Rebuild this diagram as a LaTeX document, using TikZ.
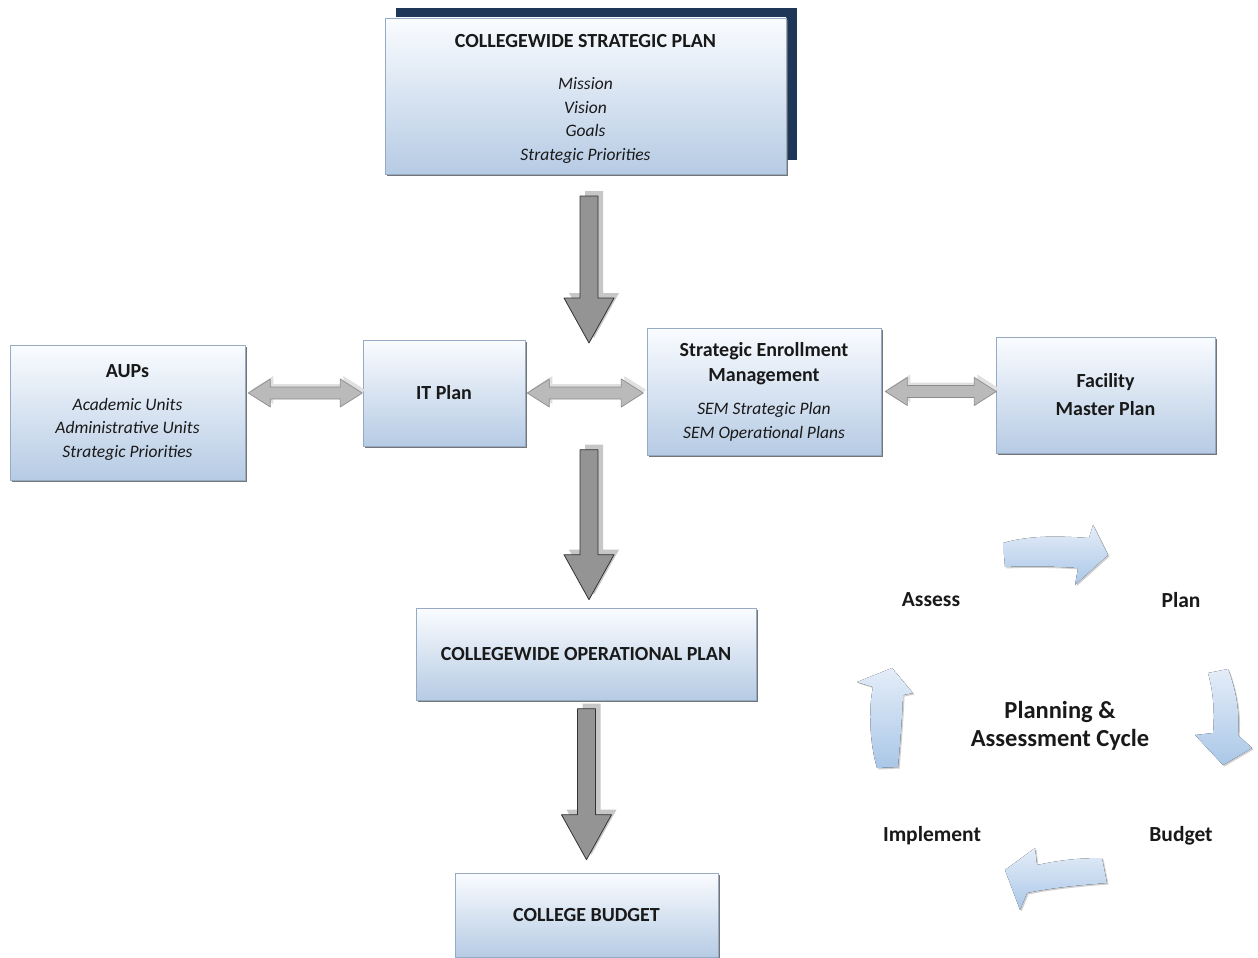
\documentclass[tikz,border=0pt]{standalone}
\usepackage{fontspec}
\setmainfont{Carlito}
\usetikzlibrary{calc,shadows}
\definecolor{boxtop}{RGB}{250,252,255}
\definecolor{boxbot}{RGB}{182,203,228}
\definecolor{boxedge}{RGB}{150,170,196}
\definecolor{navy}{RGB}{30,55,88}
\definecolor{cyctop}{RGB}{228,237,248}
\definecolor{cycbot}{RGB}{170,199,232}
\newcommand\hdtext[1]{{\fontsize{20}{25}\selectfont\bfseries\upshape #1}}
% gray block arrow pointing down: tip, shaft length
\newcommand\blockdown[3]{\draw[#3] (#1) -- ++(25,-45) -- ++(-16,0) -- ++(0,-#2) -- ++(-18,0) -- ++(0,#2) -- ++(-16,0) -- cycle;}
% gray double block arrow: left tip, length
\newcommand\blockboth[3]{\draw[#3] (#1) -- ++(22,-14) -- ++(0,8) -- ++(#2-44,0) -- ++(0,-8) -- ++(22,14) -- ++(-22,14) -- ++(0,-8) -- ++(44-#2,0) -- ++(0,8) -- cycle;}
\begin{document}
\begin{tikzpicture}[x=1pt,y=-1pt,line join=round,
  plan/.style={draw=boxedge,line width=.6pt,top color=boxtop,bottom color=boxbot,align=center,inner sep=0pt,text=black!90,
    font=\fontsize{17.5}{23.5}\selectfont\itshape,
    drop shadow={shadow xshift=2pt,shadow yshift=-2pt,fill=black!60,opacity=.9}},
  hd/.style={font=\fontsize{20}{28}\selectfont\bfseries},
  caps/.style={font=\fontsize{20}{24}\selectfont\bfseries},
  downarr/.style={fill=black!42,draw=black!80,line width=.8pt},
  downshadow/.style={fill=black!22,draw=none},
  botharr/.style={fill=black!27,draw=black!45,line width=.7pt},
  bothshadow/.style={fill=black!12,draw=none},
  cycarr/.style={top color=cyctop,bottom color=cycbot,draw=none,
    drop shadow={shadow xshift=1.5pt,shadow yshift=-1.5pt,fill=black!30,opacity=.6}},
  cyclabel/.style={font=\fontsize{21.5}{26}\selectfont\bfseries,text=black!90}]
\useasboundingbox (0,0) rectangle (1258,958);
\fill[white] (0,0) rectangle (1258,958);
% top box and its dark back panel
\fill[navy] (396,8) rectangle (797,160);
\node[plan,minimum width=401,minimum height=156] (strat) at (585.5,96)
  {\rule{0pt}{18pt}{\fontsize{20}{24}\selectfont\bfseries\upshape COLLEGEWIDE STRATEGIC PLAN}\\[19pt]
   Mission\\ Vision\\ Goals\\ Strategic Priorities};
% middle row
\node[plan,minimum width=235,minimum height=135] (aups) at (127.5,412.5)
  {\hdtext{AUPs}\\[9pt]
   Academic Units\\ Administrative Units\\ Strategic Priorities};
\node[plan,hd,minimum width=162,minimum height=106] (itplan) at (444,393) {IT Plan};
\node[plan,minimum width=234,minimum height=127] (sem) at (764,391.5)
  {\hdtext{Strategic Enrollment}\\[1.5pt] \hdtext{Management}\\[10pt]
   SEM Strategic Plan\\ SEM Operational Plans};
\node[plan,hd,minimum width=219,minimum height=116] (facility) at (1105.5,395) {Facility\\ Master Plan};
\coordinate (hub) at (589,389);
% lower column
\node[plan,caps,minimum width=340,minimum height=92] (opplan) at (586,654) {COLLEGEWIDE OPERATIONAL PLAN};
\node[plan,caps,minimum width=263,minimum height=84] (budget) at (586.5,915) {COLLEGE BUDGET};
% down arrows
\blockdown{$(hub)+(5,-51)$}{102}{downshadow}
\blockdown{$(hub)+(0,-46)$}{102}{downarr}
\blockdown{$(opplan.north)+(8,-13)$}{105}{downshadow}
\blockdown{$(opplan.north)+(3,-8)$}{105}{downarr}
\blockdown{$(budget.north)+(5,-18)$}{106}{downshadow}
\blockdown{$(budget.north)+(0,-13)$}{106}{downarr}
% double arrows
\blockboth{$(aups.east |- itplan.west)+(6,-3)$}{114}{bothshadow}
\blockboth{$(aups.east |- itplan.west)+(3,0)$}{114}{botharr}
\blockboth{$(itplan.east)+(5,-3)$}{116}{bothshadow}
\blockboth{$(itplan.east)+(2,0)$}{116}{botharr}
\blockboth{$(sem.east)+(7,-3)$}{111}{bothshadow}
\blockboth{$(sem.east)+(4,0)$}{111}{botharr}
% planning and assessment cycle
\node[cyclabel] (assess) at (931,600) {Assess};
\node[cyclabel] (plan) at (1181,600) {Plan};
\node[cyclabel] (budg) at (1181,836) {Budget};
\node[cyclabel] (impl) at (932,836) {Implement};
\node[cyclabel,font=\fontsize{24.5}{28}\selectfont\bfseries,align=center] (cycle) at (1060,726) {Planning \&\\ Assessment Cycle};
\fill[cycarr] (1003,543) .. controls (1030,535) and (1060,536) .. (1089,538) -- (1093,525) -- (1108,555) -- (1075,585)
  -- (1078,568) .. controls (1050,566) and (1025,566) .. (1005,567) -- cycle;
\fill[cycarr] (1208,673) -- (1228,669) .. controls (1236,690) and (1240,712) .. (1238,735) -- (1252,748) -- (1223,765)
  -- (1195,735) -- (1213,733) .. controls (1215,712) and (1213,690) .. (1208,673) -- cycle;
\fill[cycarr] (1102,858) -- (1107,883) .. controls (1080,885) and (1050,888) .. (1027,893) -- (1020,910) -- (1005,870)
  -- (1035,848) -- (1037,865) .. controls (1060,860) and (1080,858) .. (1102,858) -- cycle;
\fill[cycarr] (877,768) -- (898,767) .. controls (900,745) and (902,720) .. (903,695) -- (913,693) -- (892,668)
  -- (857,682) -- (873,687) .. controls (868,710) and (870,745) .. (877,768) -- cycle;
\end{tikzpicture}
\end{document}
